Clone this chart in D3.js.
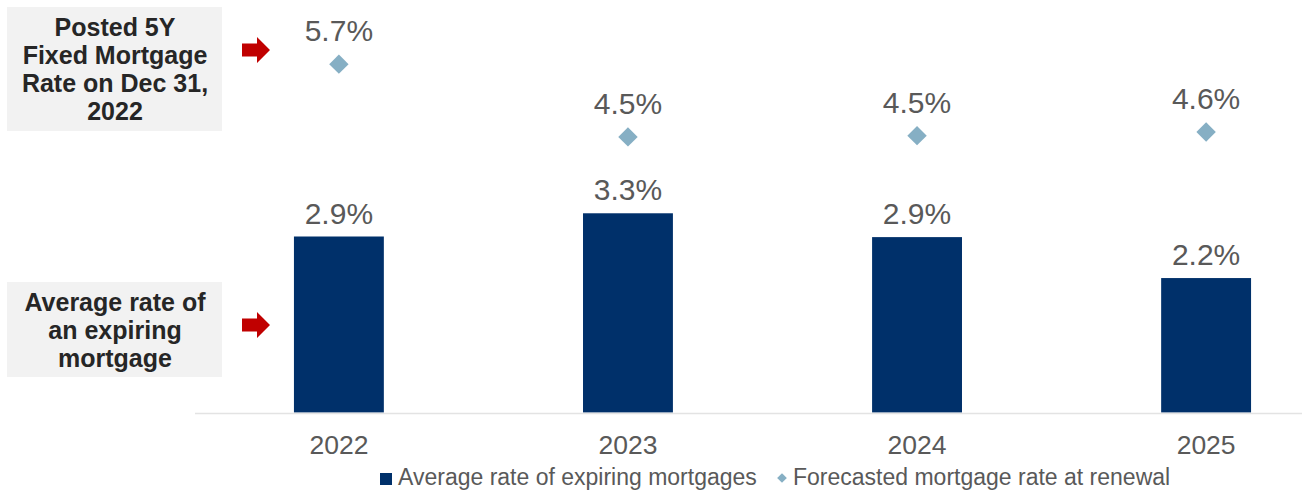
<html>
  <head>
    <script src="https://cdn.jsdelivr.net/npm/d3@7"></script>
    <style>
      body { margin: 0; background: #ffffff; }
      text { font-family: "Liberation Sans", Arial, sans-serif; }
    </style>
  </head>
  <body>
    <div id="chart"></div>
    <script>
      // Data
      const years = ["2022", "2023", "2024", "2025"];
      const avgRate = [2.88, 3.26, 2.87, 2.20];
      const forecastRate = [5.70, 4.51, 4.53, 4.59];
      const sideLabels = [
        ["Posted 5Y", "Fixed Mortgage", "Rate on Dec 31,", "2022"],
        ["Average rate of", "an expiring", "mortgage"]
      ];
      const legendLabels = ["Average rate of expiring mortgages", "Forecasted mortgage rate at renewal"];

      const width = 1302, height = 490;
      const barColor = "#00306a";
      const diamondColor = "#86afc4";
      const labelColor = "#595959";

      let svg = d3.select("#chart")
        .append("svg")
        .attr("width", width)
        .attr("height", height);

      // Scales
      const x = d3.scaleBand()
        .domain(years)
        .range([194.5, 1350.5])
        .paddingInner(0.689)
        .paddingOuter(0.344);

      const y = d3.scaleLinear()
        .domain([0, 6.75])
        .range([412.5, 0]);

      // Gray boxes on the left with arrows
      const boxes = [
        {top: 7, bottom: 131, arrowY: 50},
        {top: 282, bottom: 377, arrowY: 325}
      ];
      boxes.forEach((b, i) => {
        svg.append("rect")
          .attr("x", 7).attr("y", b.top)
          .attr("width", 215).attr("height", b.bottom - b.top)
          .attr("fill", "#f2f2f2");

        const lines = sideLabels[i];
        const mid = (b.top + b.bottom) / 2;
        svg.append("g").selectAll("text")
          .data(lines)
          .join("text")
            .attr("x", 115)
            .attr("y", (d, j) => mid + (j - (lines.length - 1) / 2) * 28 + 9)
            .attr("text-anchor", "middle")
            .attr("font-size", 25)
            .attr("font-weight", "bold")
            .attr("fill", "#262626")
            .text(d => d);

        // red block arrow
        const a = b.arrowY;
        svg.append("polygon")
          .attr("points", [[242, a - 6.5], [257, a - 6.5], [257, a - 13], [270, a],
                           [257, a + 13], [257, a + 6.5], [242, a + 6.5]].join(" "))
          .attr("fill", "#c00000");
      });

      // Bars
      svg.append("g").selectAll("rect")
        .data(years)
        .join("rect")
          .attr("x", d => x(d))
          .attr("y", (d, i) => y(avgRate[i]))
          .attr("width", x.bandwidth())
          .attr("height", (d, i) => y(0) - y(avgRate[i]))
          .attr("fill", barColor);

      // Bar labels
      svg.append("g").selectAll("text")
        .data(years)
        .join("text")
          .attr("x", d => x(d) + x.bandwidth() / 2)
          .attr("y", (d, i) => y(avgRate[i]) - 13)
          .attr("text-anchor", "middle")
          .attr("font-size", 30)
          .attr("fill", labelColor)
          .text((d, i) => avgRate[i].toFixed(1) + "%");

      // Diamonds
      const diamond = d3.symbol().type(d3.symbolDiamond2).size(240);
      svg.append("g").selectAll("path")
        .data(years)
        .join("path")
          .attr("d", diamond)
          .attr("transform", (d, i) => `translate(${x(d) + x.bandwidth() / 2},${y(forecastRate[i])})`)
          .attr("fill", diamondColor);

      svg.append("g").selectAll("text")
        .data(years)
        .join("text")
          .attr("x", d => x(d) + x.bandwidth() / 2)
          .attr("y", (d, i) => y(forecastRate[i]) - 23)
          .attr("text-anchor", "middle")
          .attr("font-size", 30)
          .attr("fill", labelColor)
          .text((d, i) => forecastRate[i].toFixed(1) + "%");

      // X axis
      let xAxis = svg.append("g")
        .attr("transform", "translate(0,413)")
        .call(d3.axisBottom(x).tickSize(0).tickPadding(22));
      xAxis.select(".domain").attr("stroke", "#e3e3e3").attr("stroke-width", 1.5);
      xAxis.selectAll("text")
        .attr("font-size", 26.5)
        .attr("font-family", "Liberation Sans, Arial, sans-serif")
        .attr("fill", labelColor);

      // Legend
      let legend = svg.append("g");
      legend.append("rect")
        .attr("x", 380).attr("y", 473)
        .attr("width", 12).attr("height", 12)
        .attr("fill", barColor);
      legend.append("text")
        .attr("x", 398).attr("y", 485)
        .attr("font-size", 23)
        .attr("fill", labelColor)
        .text(legendLabels[0]);
      legend.append("path")
        .attr("d", d3.symbol().type(d3.symbolDiamond2).size(60))
        .attr("transform", "translate(782,478)")
        .attr("fill", diamondColor);
      legend.append("text")
        .attr("x", 793).attr("y", 485)
        .attr("font-size", 23)
        .attr("fill", labelColor)
        .text(legendLabels[1]);
    </script>
  </body>
</html>
